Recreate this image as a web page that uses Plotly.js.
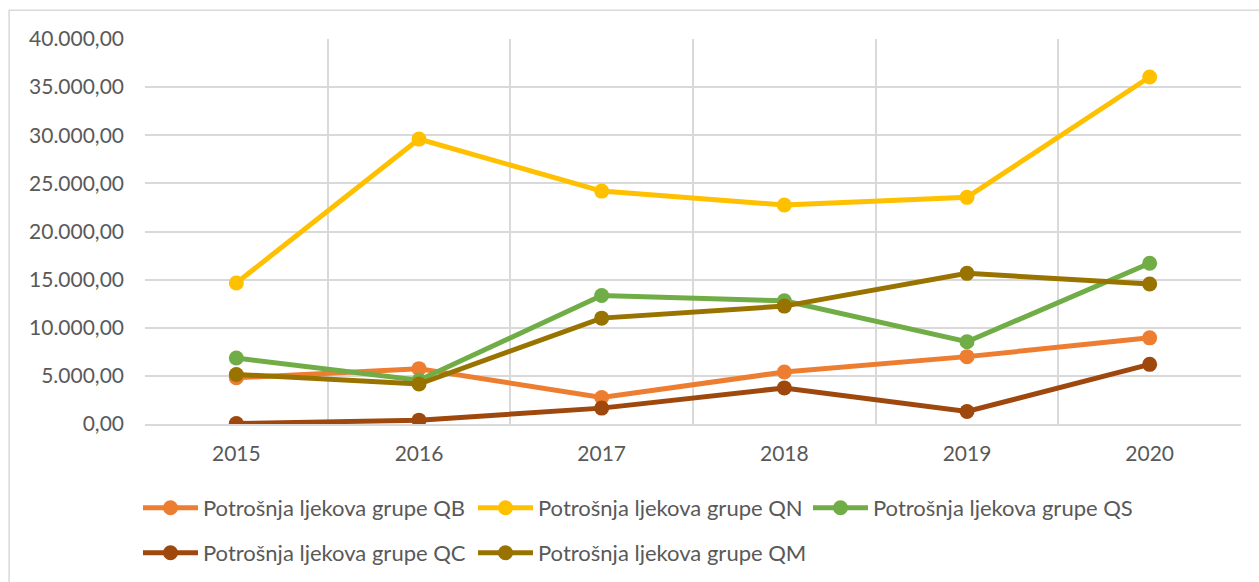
<!DOCTYPE html>
<html>
<head>
<meta charset="utf-8">
<script src="https://cdn.plot.ly/plotly-3.0.1.min.js"></script>
<style>
  html, body { margin: 0; padding: 0; background: #ffffff; }
  #chart { width: 1259px; height: 582px; }
</style>
</head>
<body>
<div id="chart"></div>
<script>
const years = ["2015", "2016", "2017", "2018", "2019", "2020"];
const seriesNames = [
  "Potrošnja ljekova grupe QB",
  "Potrošnja ljekova grupe QN",
  "Potrošnja ljekova grupe QS",
  "Potrošnja ljekova grupe QC",
  "Potrošnja ljekova grupe QM"
];
const qb = [4800, 5750, 2750, 5400, 7000, 8950];
const qn = [14650, 29600, 24200, 22750, 23550, 36050];
const qs = [6850, 4550, 13350, 12800, 8550, 16700];
const qc = [50, 400, 1650, 3750, 1300, 6200];
const qm = [5150, 4150, 11000, 12250, 15650, 14550];
const colors = ["#ED7D31", "#FFC000", "#70AD47", "#9E480E", "#997300"];
const values = [qb, qn, qs, qc, qm];
const legendOf = ["legend", "legend", "legend", "legend2", "legend2"];

const traces = values.map((v, i) => ({
  type: "scatter",
  mode: "lines+markers",
  name: seriesNames[i],
  legend: legendOf[i],
  x: years,
  y: v,
  line: { color: colors[i], width: 5 },
  marker: { color: colors[i], size: 15 }
}));

const legendCommon = {
  orientation: "h",
  xanchor: "left",
  yanchor: "middle",
  entrywidth: 265,
  entrywidthmode: "pixels",
  itemwidth: 55,
  font: { size: 22, color: "#595959", family: "Lato, 'Open Sans', sans-serif" },
  bgcolor: "rgba(0,0,0,0)"
};

const layout = {
  width: 1259,
  height: 582,
  margin: { l: 145, r: 18, t: 39, b: 158, autoexpand: false },
  paper_bgcolor: "#ffffff",
  plot_bgcolor: "#ffffff",
  font: { family: "Lato, 'Open Sans', sans-serif", size: 21, color: "#595959" },
  separators: ",.",
  showlegend: true,
  xaxis: {
    type: "category",
    range: [-0.5, 5.5],
    tickson: "boundaries",
    showgrid: true,
    gridcolor: "#d9d9d9",
    gridwidth: 2,
    ticks: "",
    showline: true,
    linecolor: "#d9d9d9",
    linewidth: 2,
    ticklabelstandoff: 10,
    tickfont: { size: 21, color: "#595959" },
    zeroline: false,
    automargin: false,
    fixedrange: true
  },
  yaxis: {
    range: [0, 40000],
    dtick: 5000,
    tick0: 0,
    tickformat: ",.2f",
    showgrid: true,
    gridcolor: "#d9d9d9",
    gridwidth: 2,
    ticks: "",
    showline: false,
    zeroline: false,
    ticklabelstandoff: 20,
    tickfont: { size: 21, color: "#595959" },
    automargin: false,
    fixedrange: true
  },
  legend: Object.assign({}, legendCommon, { x: -0.0064, y: -0.218 }),
  legend2: Object.assign({}, legendCommon, { x: -0.0064, y: -0.335 }),
  shapes: [
    {
      type: "rect", xref: "paper", yref: "paper",
      x0: -0.124, x1: 1.03, y0: -0.45, y1: 1.075,
      line: { color: "#d9d9d9", width: 1.5 },
      fillcolor: "rgba(0,0,0,0)",
      layer: "below"
    }
  ]
};

Plotly.newPlot("chart", traces, layout, { displayModeBar: false, staticPlot: true });
</script>
</body>
</html>
